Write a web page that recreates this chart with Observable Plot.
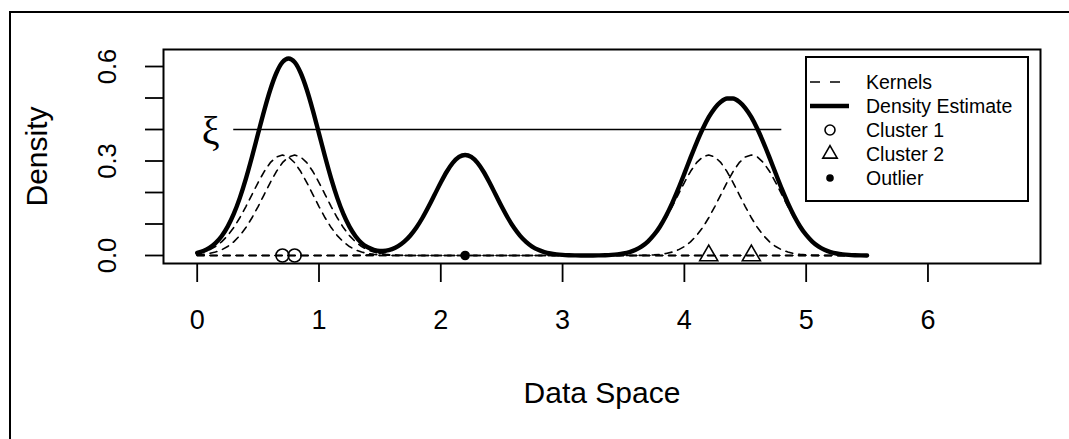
<!DOCTYPE html>
<html><head><meta charset="utf-8">
<script src="https://cdn.jsdelivr.net/npm/d3@7"></script>
<script src="https://cdn.jsdelivr.net/npm/@observablehq/plot@0.6"></script>
<style>
html,body{margin:0;padding:0;background:#fff;overflow:hidden;}
#wrap{position:relative;width:1069px;height:439px;overflow:hidden;}
#outer{position:absolute;left:9px;top:11px;width:1200px;height:600px;border:2px solid #000;box-sizing:border-box;}
#chart{position:absolute;left:0;top:0;}
#legend{position:absolute;left:805px;top:56px;width:224px;height:146px;border:2px solid #000;box-sizing:border-box;background:#fff;}
#legend svg{display:block;}
</style></head><body>
<div id="wrap"><div id="outer"></div><div id="chart"></div><div id="legend"></div></div>
<script>
// ---- data ----
const cluster1 = [0.7, 0.8];
const cluster2 = [4.2, 4.55];
const outlier = [2.2];
const kernelCenters = [0.7, 0.8, 2.2, 4.2, 4.55];
// kernel height at |distance| 0, 0.05, 0.10, ... 1.00 from its centre
const kernelProfile = [0.3192,0.3128,0.2946,0.2666,0.2317,0.1936,0.1554,0.1198,0.0887,0.0632,0.0432,0.0284,0.0179,0.0109,0.0063,0.0035,0.0019,0.0010,0.0005,0.0002,0.0001];
const gridStep = 0.05;
// density estimate at x = 0, 0.05, ..., 5.5
const densityEstimate = [
0.0082,0.0144,0.0242,0.0393,0.0611,0.0916,0.1319,0.1830,0.2441,0.3134,
0.3871,0.4602,0.5263,0.5794,0.6138,0.6256,0.6138,0.5794,0.5263,0.4602,
0.3871,0.3134,0.2441,0.1830,0.1319,0.0916,0.0611,0.0393,0.0261,0.0179,
0.0145,0.0154,0.0203,0.0296,0.0438,0.0634,0.0888,0.1198,0.1554,0.1936,
0.2317,0.2666,0.2946,0.3128,0.3192,0.3128,0.2946,0.2666,0.2317,0.1936,
0.1554,0.1198,0.0887,0.0632,0.0432,0.0284,0.0179,0.0109,0.0063,0.0035,
0.0019,0.0010,0.0005,0.0002,0.0002,0.0002,0.0005,0.0010,0.0019,0.0035,
0.0063,0.0110,0.0181,0.0289,0.0442,0.0651,0.0922,0.1261,0.1663,0.2115,
0.2601,0.3098,0.3578,0.4015,0.4390,0.4682,0.4882,0.4983,0.4983,0.4882,
0.4682,0.4390,0.4015,0.3578,0.3098,0.2601,0.2115,0.1663,0.1261,0.0922,
0.0651,0.0442,0.0289,0.0181,0.0110,0.0063,0.0035,0.0019,0.0010,0.0005,
0.0002];
const xiLevel = 0.4;
const xiExtent = [0.3, 4.8];
const xTicks = [0, 1, 2, 3, 4, 5, 6];
const yTicks = [0, 0.1, 0.2, 0.3, 0.4, 0.5, 0.6];
const yTickLabels = [0, 0.3, 0.6];
const legendLabels = ["Kernels", "Density Estimate", "Cluster 1", "Cluster 2", "Outlier"];

// ---- build tables ----
const gridX = densityEstimate.map((_, i) => +(i * gridStep).toFixed(2));
const densityRows = gridX.map((x, i) => ({x, y: densityEstimate[i]}));
const kernelRows = kernelCenters.flatMap((c, ki) => gridX.map(x => {
  const k = Math.abs(Math.round((x - c) / gridStep));
  return {kernel: ki, x, y: k < kernelProfile.length ? kernelProfile[k] : 0};
}));

const FONT = "'Liberation Sans', Arial, Helvetica, sans-serif";
const chart = Plot.plot({
  width: 1069, height: 439,
  marginLeft: 163, marginRight: 29, marginTop: 49, marginBottom: 176,
  x: {domain: [-0.2767, 6.924], axis: null},
  y: {domain: [-0.0254, 0.654], axis: null},
  style: {fontFamily: FONT, background: "transparent", color: "#000", overflow: "visible"},
  marks: [
    Plot.axisX({ticks: xTicks, tickSize: 19, tickPadding: 27, fontSize: 27, tickFormat: d => String(d), strokeWidth: 1.8, label: null}),
    Plot.axisY({ticks: yTicks, tickSize: 18, tickFormat: () => "", strokeWidth: 1.8, label: null}),
    Plot.text(yTickLabels, {y: d => d, text: d => d.toFixed(1), frameAnchor: "left", dx: -56, rotate: -90, fontSize: 25.5, textAnchor: "middle", lineAnchor: "middle"}),
    Plot.text(["Density"], {text: d => d, frameAnchor: "left", dx: -126, rotate: -90, fontSize: 30, textAnchor: "middle", lineAnchor: "middle"}),
    Plot.text(["Data Space"], {text: d => d, frameAnchor: "bottom", dy: 130, fontSize: 30, textAnchor: "middle", lineAnchor: "middle"}),
    Plot.line(kernelRows, {x: "x", y: "y", z: "kernel", stroke: "#000", strokeWidth: 1.6, strokeDasharray: "7,6"}),
    Plot.line(densityRows, {x: "x", y: "y", stroke: "#000", strokeWidth: 4.4, curve: "monotone-x"}),
    Plot.ruleY([xiLevel], {x1: xiExtent[0], x2: xiExtent[1], stroke: "#000", strokeWidth: 1.6}),
    Plot.text([xiLevel], {x: xiExtent[0], y: d => d, text: () => "ξ", dx: -23, dy: 2, fontSize: 40, fontFamily: "'Liberation Serif', 'DejaVu Serif', serif", textAnchor: "middle", lineAnchor: "middle"}),
    Plot.dot(cluster1, {x: d => d, y: () => 0, r: 6.5, stroke: "#000", strokeWidth: 1.6, fill: "none"}),
    Plot.dot(cluster2, {x: d => d, y: () => 0, symbol: "triangle", r: 6.7, stroke: "#000", strokeWidth: 1.6, fill: "none"}),
    Plot.dot(outlier, {x: d => d, y: () => 0, r: 4.8, fill: "#000", stroke: "none"}),
    Plot.frame({stroke: "#000", strokeWidth: 2})
  ]
});
document.getElementById("chart").appendChild(chart);

// ---- legend (inside the plot, top right) ----
const rowY = [24, 48, 72, 96, 120];
const lg = d3.select("#legend").append("svg").attr("width", 220).attr("height", 142)
  .style("font-family", FONT);
lg.append("line").attr("x1", 3).attr("x2", 33).attr("y1", rowY[0]).attr("y2", rowY[0])
  .attr("stroke", "#000").attr("stroke-width", 1.6).attr("stroke-dasharray", "10,10");
lg.append("line").attr("x1", 3).attr("x2", 42).attr("y1", rowY[1]).attr("y2", rowY[1])
  .attr("stroke", "#000").attr("stroke-width", 4.4);
lg.append("circle").attr("cx", 23).attr("cy", rowY[2]).attr("r", 5).attr("fill", "none")
  .attr("stroke", "#000").attr("stroke-width", 1.6);
lg.append("path").attr("transform", `translate(23,${rowY[3]})`)
  .attr("d", d3.symbol(d3.symbolTriangle, 90)()).attr("fill", "none")
  .attr("stroke", "#000").attr("stroke-width", 1.6);
lg.append("circle").attr("cx", 23).attr("cy", rowY[4]).attr("r", 3.8).attr("fill", "#000");
lg.selectAll("text.lab").data(legendLabels).join("text").attr("class", "lab")
  .attr("x", 59).attr("y", (d, i) => rowY[i] + 7).attr("font-size", 19.5).attr("fill", "#000")
  .text(d => d);
</script>
</body></html>
